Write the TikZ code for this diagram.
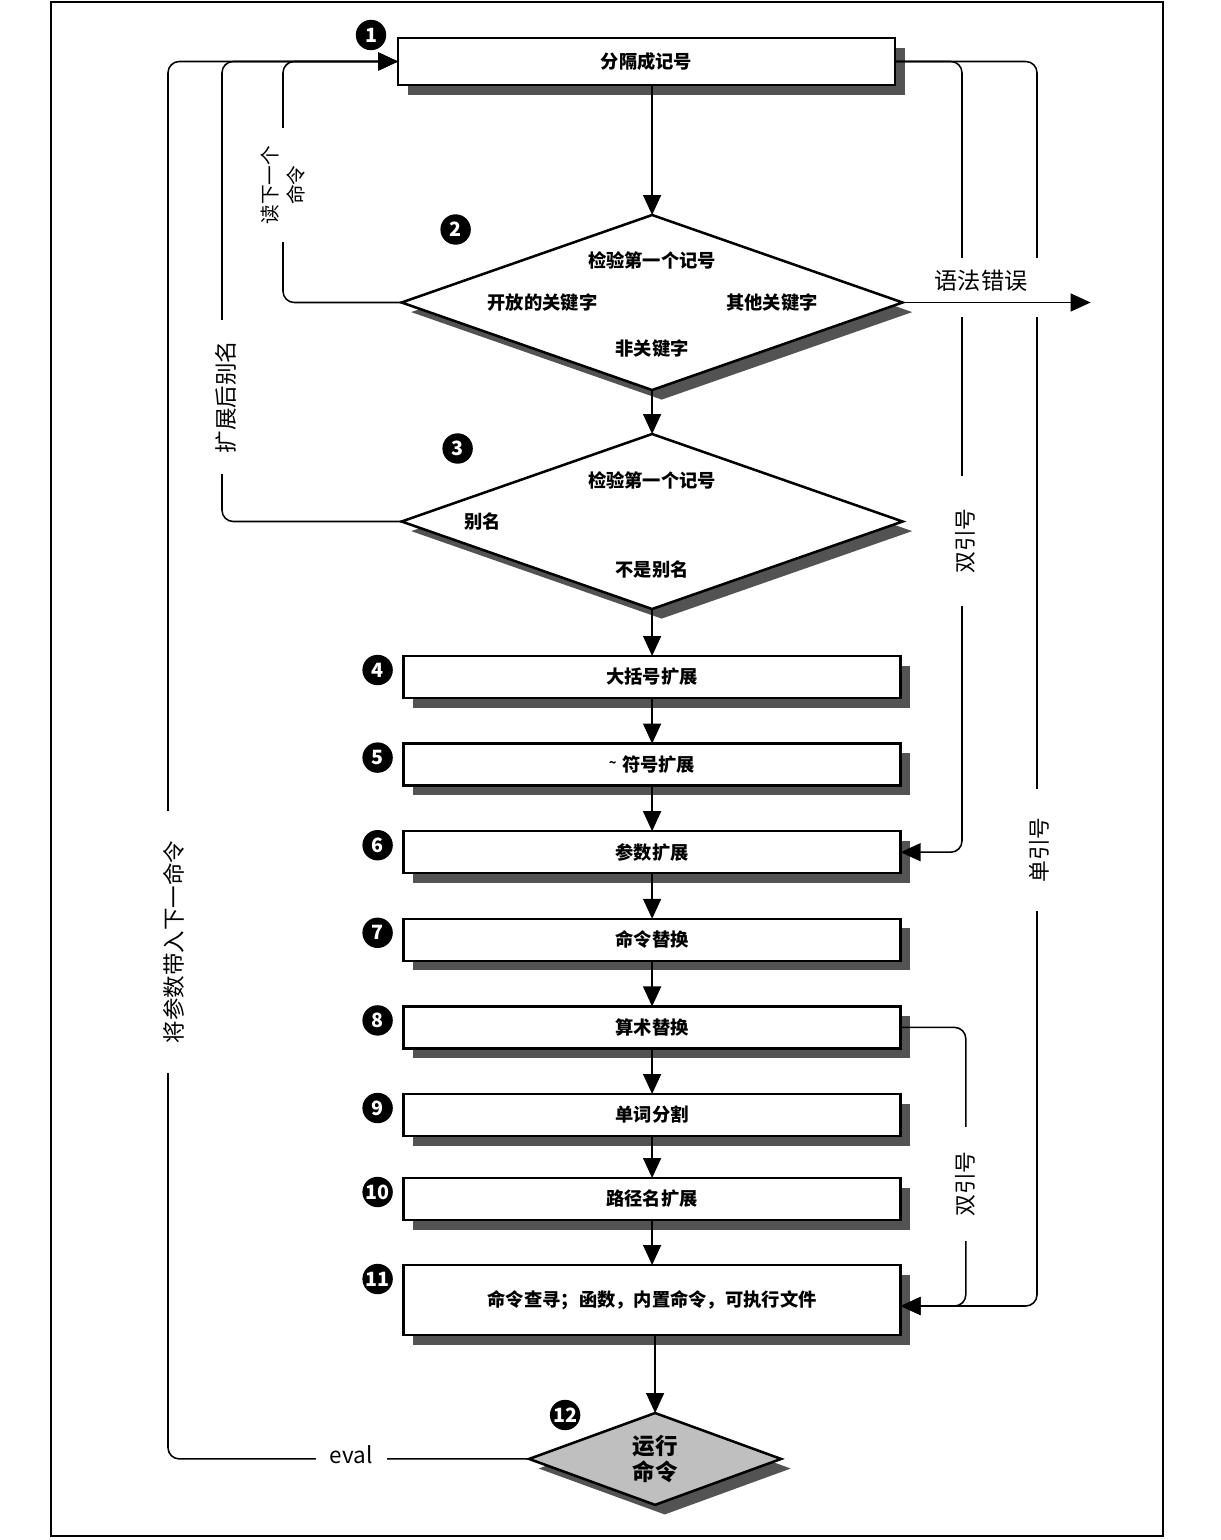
\documentclass[tikz,border=0pt]{standalone}
\usepackage{fontspec}
\setmainfont{Noto Sans CJK SC}
\usepackage{tikz}
\usetikzlibrary{positioning, arrows.meta, shapes.geometric, shadows}

\begin{document}
\begin{tikzpicture}[node distance=1.14cm,
  stage/.style={draw, line width=1.8pt, fill=white, outer sep=0pt, minimum width=12.425cm, minimum height=1.05cm, inner sep=0pt, font=\fontsize{13}{15}\selectfont\bfseries, drop shadow={shadow xshift=2.4mm, shadow yshift=-2.4mm, fill=black!75, opacity=0.9}},
  test/.style={draw, diamond, line width=1.8pt, fill=white, outer sep=0pt, minimum width=12.525cm, minimum height=4.375cm, inner sep=0pt, drop shadow={shadow xshift=2.4mm, shadow yshift=-2.4mm, fill=black!75, opacity=0.9}},
  num/.style={circle, fill=black, text=white, minimum size=7.6mm, inner sep=0pt, font=\fontsize{14}{14}\selectfont\bfseries},
  inlbl/.style={inner sep=1pt, font=\fontsize{13}{15}\selectfont\bfseries},
  sidelbl/.style={fill=white, rotate=90, inner ysep=0.5pt, inner xsep=6mm, font=\fontsize{16}{19}\selectfont},
  flow/.style={line width=1.1pt, rounded corners=8pt},
  arr/.style={flow, -{Triangle[length=5mm, width=4.5mm]}}]
  \useasboundingbox (0,0) rectangle (30.5,-38.5);
  \draw[line width=1.2pt] (1.275,-0.05) rectangle (29.075,-38.4);

  % main chain
  \node[stage, minimum height=1.175cm] (split) at (16.1625,-1.5375) {分隔成记号};
  \node[test, below=3.25cm of split, xshift=0.14cm] (first) {};
  \node[test, below=1.1cm of first] (alias) {};
  \node[stage, below=1.175cm of alias] (brace) {大括号扩展};
  \node[stage, below=of brace] (tilde) {\raisebox{0.45ex}{\small\textasciitilde}\hspace{0.3em}符号扩展};
  \node[stage, below=of tilde] (param) {参数扩展};
  \node[stage, below=of param] (cmdsub) {命令替换};
  \node[stage, below=of cmdsub] (arith) {算术替换};
  \node[stage, below=of arith] (words) {单词分割};
  \node[stage, below=1.05cm of words] (pathexp) {路径名扩展};
  \node[stage, below=1.125cm of pathexp, minimum height=1.75cm] (lookup) {命令查寻；函数，内置命令，可执行文件};
  \node[test, below=1.95cm of lookup, xshift=0.075cm, minimum width=6.3cm, minimum height=2.125cm, fill=gray!50, align=center, font=\fontsize{16}{18}\selectfont\bfseries] (run) {运行\\命令};

  % texts inside the diamonds
  \node[inlbl] (firsttop) at ([yshift=1.06cm]first.center) {检验第一个记号};
  \node[inlbl] (openkw) at ([xshift=-2.74cm]first.center) {开放的关键字};
  \node[inlbl] (otherkw) at ([xshift=3.0cm]first.center) {其他关键字};
  \node[inlbl] (nonkw) at ([yshift=-1.16cm]first.center) {非关键字};
  \node[inlbl] (aliastop) at ([yshift=1.03cm]alias.center) {检验第一个记号};
  \node[inlbl] (isalias) at ([xshift=-4.23cm]alias.center) {别名};
  \node[inlbl] (notalias) at ([yshift=-1.2cm]alias.center) {不是别名};

  % step numbers
  \node[num] (n1) at ([xshift=-0.675cm, yshift=0.075cm]split.north west) {1};
  \node[num] (n2) at ([xshift=1.35cm, yshift=1.825cm]first.west) {2};
  \node[num] (n3) at ([xshift=1.4cm, yshift=1.825cm]alias.west) {3};
  \node[num] (n4) at ([xshift=-0.65cm, yshift=-0.35cm]brace.north west) {4};
  \node[num] (n5) at ([xshift=-0.65cm, yshift=-0.35cm]tilde.north west) {5};
  \node[num] (n6) at ([xshift=-0.65cm, yshift=-0.35cm]param.north west) {6};
  \node[num] (n7) at ([xshift=-0.65cm, yshift=-0.35cm]cmdsub.north west) {7};
  \node[num] (n8) at ([xshift=-0.65cm, yshift=-0.35cm]arith.north west) {8};
  \node[num] (n9) at ([xshift=-0.65cm, yshift=-0.35cm]words.north west) {9};
  \node[num] (n10) at ([xshift=-0.65cm, yshift=-0.35cm]pathexp.north west) {10};
  \node[num] (n11) at ([xshift=-0.65cm, yshift=-0.35cm]lookup.north west) {11};
  \node[num] (n12) at ([xshift=-2.25cm, yshift=-0.05cm]run.north) {12};

  % downward flow
  \draw[arr] (first.north |- split.south) -- (first.north);
  \draw[arr] (first.south) -- (alias.north);
  \draw[arr] (alias.south) -- (brace.north);
  \draw[arr] (brace.south) -- (tilde.north);
  \draw[arr] (tilde.south) -- (param.north);
  \draw[arr] (param.south) -- (cmdsub.north);
  \draw[arr] (cmdsub.south) -- (arith.north);
  \draw[arr] (arith.south) -- (words.north);
  \draw[arr] (words.south) -- (pathexp.north);
  \draw[arr] (pathexp.south) -- (lookup.north);
  \draw[arr] (run.north |- lookup.south) -- (run.north);

  % loops back to the top
  \draw[arr] (first.west) -| ([xshift=-2.875cm]split.west) -- (split.west);
  \draw[arr] (alias.west) -| ([xshift=-4.4cm]split.west) -- (split.west);
  \draw[arr] (run.west) -| ([xshift=-5.75cm]split.west) -- (split.west);

  % quoting shortcuts
  \draw[arr] (split.east) -- ([xshift=3.55cm]split.east) |- ([yshift=-0.15cm]lookup.east);
  \draw[arr] (split.east) -- ([xshift=1.675cm]split.east) |- (param.east);
  \draw[arr] (arith.east) -- ([xshift=1.63cm]arith.east) |- ([yshift=-0.15cm]lookup.east);

  % labels on the lines
  \node[sidelbl, align=center, inner xsep=4.4mm, font=\fontsize{14}{19}\selectfont] (readlbl) at (7.075,-4.625) {读下一个\\命令};
  \node[sidelbl, inner xsep=5.2mm] (aliaslbl) at (5.65,-9.925) {扩展后别名};
  \node[sidelbl, inner xsep=7.5mm] (carrylbl) at (4.35,-23.55) {将参数带入下一命令};
  \node[sidelbl, inner xsep=8mm, font=\fontsize{15.5}{18}\selectfont] (dqlbl) at (24.125,-13.525) {双引号};
  \node[sidelbl, inner xsep=7mm, font=\fontsize{15.5}{18}\selectfont] (sqlbl) at (25.975,-21.25) {单引号};
  \node[sidelbl, inner xsep=6mm, font=\fontsize{15.5}{18}\selectfont] (dqlbl2) at (24.125,-29.6) {双引号};
  \node[fill=white, inner xsep=3.5mm, inner ysep=1pt, font=\fontsize{16}{18}\selectfont] (evallbl) at ([xshift=-4.45cm, yshift=0.1cm]run.west) {eval};
  \node[fill=white, inner sep=0pt, anchor=base, text height=7.75mm, text depth=7mm, minimum width=32mm, font=\fontsize{16.5}{18}\selectfont] (errlbl) at (24.525,-7.225) {语法错误};

  % syntax error exit
  \coordinate (errend) at ([xshift=4.7cm]first.east);
  \draw[arr] (first.east) -- (errend);
\end{tikzpicture}
\end{document}
